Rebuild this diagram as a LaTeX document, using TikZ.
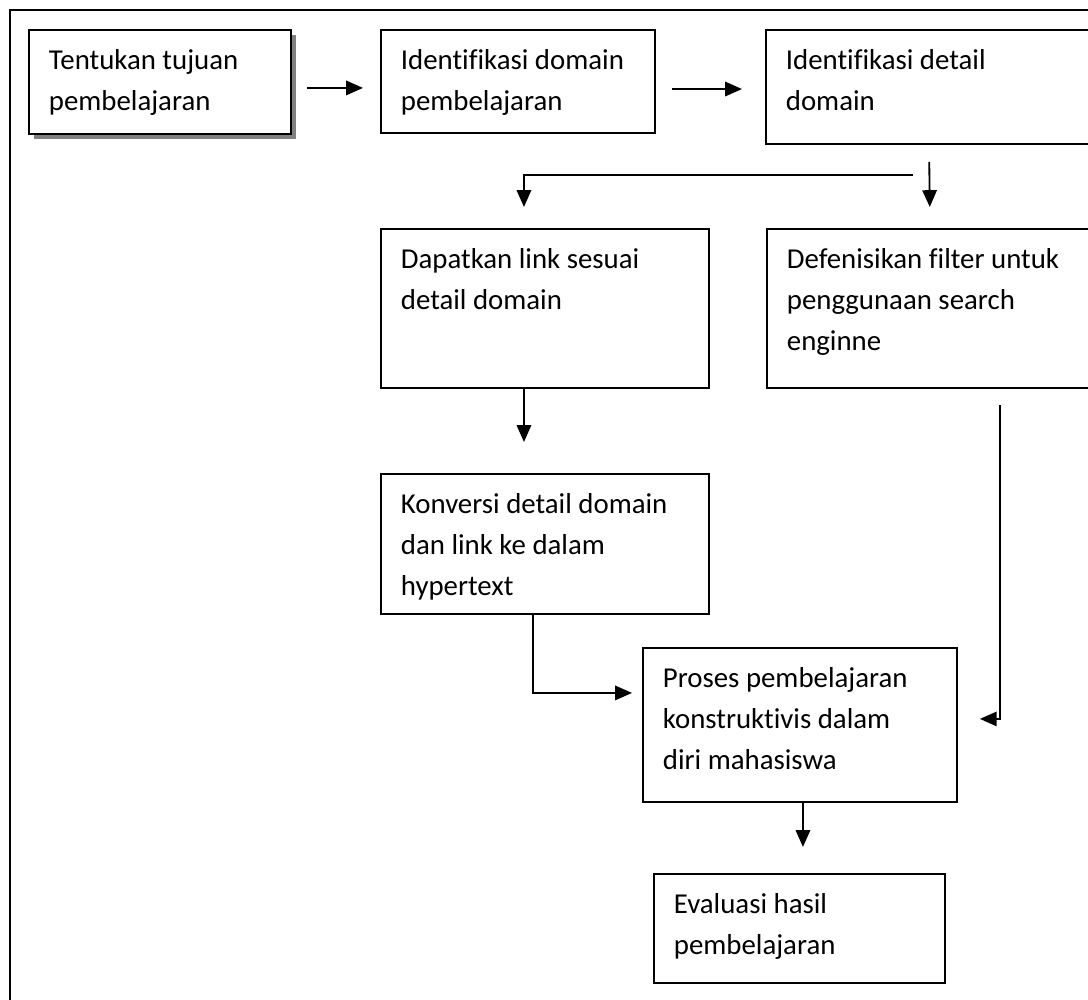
\documentclass[tikz,border=0pt]{standalone}
\usepackage{fontspec}
\setmainfont{Carlito}[Ligatures=NoCommon]
\usepackage{tikz}
\usetikzlibrary{arrows.meta,shadows}
\newcommand{\boxfont}{\fontsize{20.5}{29}\selectfont}
\tikzset{
  stepbox/.style={ draw, fill=white, line width=1.3pt, anchor=north west, align=flush left,
    inner xsep=0.5cm, inner ysep=0pt, text height=1.0cm, font=\boxfont }
}
\tikzset{
  flow/.style={ line width=1.3pt, -{Triangle[length=0.42cm, width=0.36cm]} }
}
\tikzset{
  frame/.style={ line width=2pt }
}
\begin{document}
\begin{tikzpicture}[x=0.025cm, y=-0.025cm]
  \useasboundingbox (0,0) rectangle (1088,1000);
  \clip (0,0) rectangle (1088,1000);
  \draw[frame] (10,1010) -- (10,10) -- (1100,10);

  \node[stepbox, text width=5.55cm, text depth=1.6cm,
    drop shadow={shadow xshift=0.13cm, shadow yshift=-0.13cm, fill=gray, opacity=1}]
    (tujuan) at (28, 29) {Tentukan tujuan\\pembelajaran};
  \node[stepbox, text width=5.85cm, text depth=1.575cm] (domain) at (380, 29) {Identifikasi domain\\pembelajaran};
  \node[stepbox, text width=9cm, text depth=1.85cm] (detail) at (765, 29) {Identifikasi detail\\domain};
  \node[stepbox, text width=7.2cm, text depth=2.975cm] (link) at (380, 228) {Dapatkan link sesuai\\detail domain};
  \node[stepbox, text width=9cm, text depth=2.975cm] (filter) at (766, 228) {Defenisikan filter untuk\\penggunaan search\\enginne};
  \node[stepbox, text width=7.2cm, text depth=2.5cm] (konversi) at (380, 473) {Konversi detail domain\\dan link ke dalam\\hypertext};
  \node[stepbox, text width=6.85cm, text depth=2.85cm] (proses) at (642, 647) {Proses pembelajaran\\konstruktivis dalam\\diri mahasiswa};
  \node[stepbox, text width=6.275cm, text depth=1.725cm] (evaluasi) at (653, 873) {Evaluasi hasil\\pembelajaran};

  \draw[flow, shorten <=0.375cm, shorten >=0.425cm] ([yshift=-0.15cm]tujuan.east) -- ([yshift=-0.15cm]tujuan.east -| domain.west);
  \draw[flow, shorten <=0.4cm, shorten >=0.575cm] ([yshift=-0.19cm]domain.east) -- ([yshift=-0.19cm]domain.east -| detail.west);
  \draw[flow, shorten >=0.525cm] ([xshift=3.7cm, yshift=-0.75cm]detail.south west) -| ([xshift=-0.525cm]link.north);
  \draw[flow, shorten <=0.425cm, shorten >=0.525cm] ([xshift=4.1cm]detail.south west) -- ([xshift=4.1cm]filter.north west);
  \draw[flow, shorten >=0.775cm] ([xshift=-0.525cm]link.south) -- ([xshift=-0.525cm]konversi.north);
  \draw[flow, shorten >=0.25cm] ([xshift=-0.3cm]konversi.south) |- ([yshift=0.8cm]proses.west);
  \draw[flow, shorten <=0.4cm, shorten >=0.55cm] ([xshift=5.85cm]filter.south west) |- ([yshift=0.15cm]proses.east);
  \draw[flow, shorten >=0.65cm] ([xshift=0.075cm]proses.south) -- ([xshift=0.075cm]proses.south |- evaluasi.north);
\end{tikzpicture}
\end{document}
